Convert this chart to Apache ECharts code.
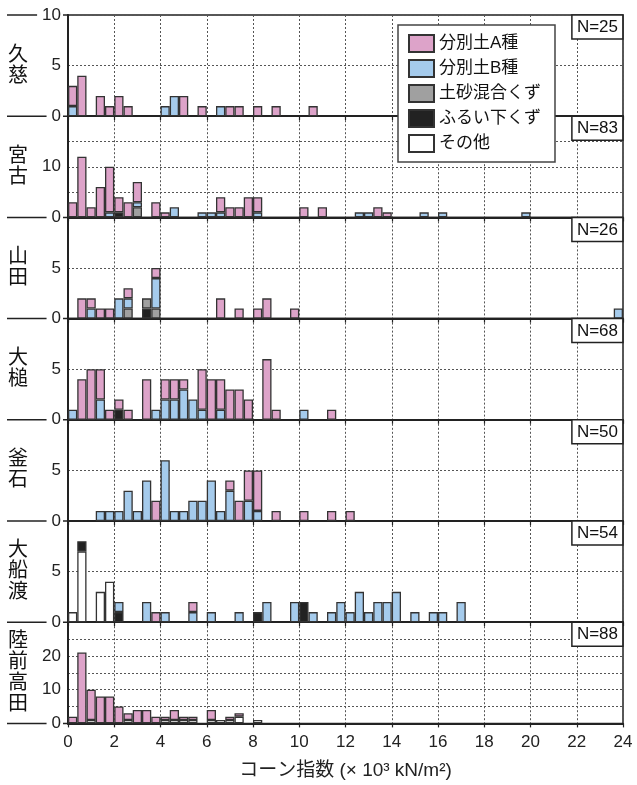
<!DOCTYPE html>
<html>
<head>
<meta charset="utf-8">
<script src="https://cdn.jsdelivr.net/npm/echarts@6/dist/echarts.min.js"></script>
<style>
  html, body { margin: 0; padding: 0; background: #fff; }
  #chart { width: 637px; height: 785px; }
</style>
</head>
<body>
<div id="chart"></div>
<script>
// Histogram bins: lower edge of each 0.4 (×10³ kN/m²) class
const binEdges = ['0.0','0.4','0.8','1.2','1.6','2.0','2.4','2.8','3.2','3.6',
  '4.0','4.4','4.8','5.2','5.6','6.0','6.4','6.8','7.2','7.6',
  '8.0','8.4','8.8','9.2','9.6','10.0','10.4','10.8','11.2','11.6',
  '12.0','12.4','12.8','13.2','13.6','14.0','14.4','14.8','15.2','15.6',
  '16.0','16.4','16.8','17.2','17.6','18.0','18.4','18.8','19.2','19.6',
  '20.0','20.4','20.8','21.2','21.6','22.0','22.4','22.8','23.2','23.6'];

const stations = ['久慈', '宮古', '山田', '大槌', '釜石', '大船渡', '陸前高田'];
const sampleCounts = [25, 83, 26, 68, 50, 54, 88];
const yMax = [10, 20, 10, 10, 10, 10, 30];
const yLabelValues = [[0, 5, 10], [0, 10], [0, 5], [0, 5], [0, 5], [0, 5], [0, 10, 20]];

const typeNames = ['分別土A種', '分別土B種', '土砂混合くず', 'ふるい下くず', 'その他'];

// Counts per class: [bin lower edge, count]
const kuji_A = [[0.0,2],[0.4,4],[1.2,2],[1.6,1],[2.0,2],[2.4,1],[4.8,2],[5.6,1],[6.8,1],[7.2,1],[8.0,1],[8.8,1],[10.4,1]];
const kuji_B = [[0.0,1],[4.0,1],[4.4,2],[6.4,1]];

const miyako_A = [[0.0,3],[0.4,12],[0.8,2],[1.2,6],[1.6,9],[2.0,3],[2.4,3],[2.8,4],[3.6,3],[4.0,1],[6.4,3],[6.8,2],[7.2,2],[7.6,4],[8.0,3],[10.0,2],[10.8,2],[13.2,2],[13.6,1]];
const miyako_B = [[1.6,1],[2.8,1],[4.4,2],[5.6,1],[6.0,1],[6.4,1],[8.0,1],[12.4,1],[12.8,1],[15.2,1],[16.0,1],[19.6,1]];
const miyako_mix = [[2.8,2]];
const miyako_sieve = [[2.0,1]];

const yamada_A = [[0.4,2],[0.8,1],[1.2,1],[1.6,1],[2.4,1],[3.6,1],[6.4,2],[7.2,1],[8.0,1],[8.4,2],[9.6,1]];
const yamada_B = [[0.8,1],[2.0,2],[2.4,1],[3.6,3],[23.6,1]];
const yamada_mix = [[2.4,1],[3.2,1],[3.6,1]];
const yamada_sieve = [[3.2,1]];

const otsuchi_A = [[0.4,4],[0.8,5],[1.2,3],[1.6,1],[2.0,1],[2.4,1],[3.2,4],[4.0,2],[4.4,2],[4.8,1],[5.6,4],[6.0,4],[6.4,3],[6.8,3],[7.2,3],[7.6,2],[8.4,6],[8.8,1],[11.2,1]];
const otsuchi_B = [[0.0,1],[1.2,2],[3.6,1],[4.0,2],[4.4,2],[4.8,3],[5.2,2],[5.6,1],[6.4,1],[10.0,1]];
const otsuchi_sieve = [[2.0,1]];

const kamaishi_A = [[3.6,2],[6.8,1],[7.2,2],[7.6,3],[8.0,4],[8.8,1],[10.0,1],[11.2,1],[12.0,1]];
const kamaishi_B = [[1.2,1],[1.6,1],[2.0,1],[2.4,3],[2.8,1],[3.2,4],[4.0,6],[4.4,1],[4.8,1],[5.2,2],[5.6,2],[6.0,4],[6.4,1],[6.8,3],[7.6,2],[8.0,1]];

const ofunato_A = [[3.6,1],[5.2,1]];
const ofunato_B = [[2.0,1],[3.2,2],[4.0,1],[5.2,1],[6.0,1],[7.2,1],[8.4,2],[9.6,2],[10.4,1],[11.2,1],[11.6,2],[12.0,1],[12.4,3],[12.8,1],[13.2,2],[13.6,2],[14.0,3],[14.8,1],[15.6,1],[16.0,1],[16.8,2]];
const ofunato_sieve = [[0.4,1],[2.0,1],[8.0,1],[10.0,2]];
const ofunato_other = [[0.0,1],[0.4,7],[1.2,3],[1.6,4]];

const rikuzentakata_A = [[0.0,2],[0.4,21],[0.8,9],[1.2,8],[1.6,8],[2.0,5],[2.4,2],[2.8,4],[3.2,4],[3.6,2],[4.0,1],[4.4,3],[4.8,1],[5.2,1],[6.0,3],[6.8,1],[7.2,1]];
const rikuzentakata_other = [[0.8,1],[2.4,1],[4.0,1],[4.4,1],[4.8,1],[5.2,1],[6.0,1],[6.4,1],[6.8,1],[7.2,2],[8.0,1]];

// Per-panel lookup of the arrays above, in type order A, B, mix, sieve, other
const panelSets = [
  [kuji_A, kuji_B, [], [], []],
  [miyako_A, miyako_B, miyako_mix, miyako_sieve, []],
  [yamada_A, yamada_B, yamada_mix, yamada_sieve, []],
  [otsuchi_A, otsuchi_B, [], otsuchi_sieve, []],
  [kamaishi_A, kamaishi_B, [], [], []],
  [ofunato_A, ofunato_B, [], ofunato_sieve, ofunato_other],
  [rikuzentakata_A, [], [], [], rikuzentakata_other]
];

// ---- styling ----
const FONT = "'Liberation Sans','Noto Sans CJK JP',sans-serif";
const INK = '#222';
const typeColors = ['#dda3c9', '#a5cbec', '#a0a0a0', '#222222', '#ffffff'];
const stackOrder = [4, 3, 2, 1, 0]; // bottom to top
const gridLeft = 68, gridRight = 14, firstTop = 15, panelH = 101.2;

function denseBins(pairs) {
  const out = binEdges.map(() => null);
  pairs.forEach(([edge, n]) => {
    const i = binEdges.indexOf(edge.toFixed(1));
    if (i >= 0) out[i] = n;
  });
  return out;
}

const grids = [], xAxes = [], yAxes = [], series = [], titles = [], graphics = [];
const dotted = { type: [2, 2], color: '#555', width: 1 };

// separator rule running out to the left edge
function leftRule(y) {
  return { type: 'line', z: 0, silent: true,
    shape: { x1: 7, y1: y, x2: gridLeft, y2: y },
    style: { stroke: INK, lineWidth: 1.5 } };
}
graphics.push(leftRule(firstTop));

stations.forEach((name, p) => {
  const top = firstTop + p * panelH;
  const last = p === stations.length - 1;
  grids.push({ left: gridLeft, right: gridRight, top: top, height: panelH,
    show: true, borderColor: INK, borderWidth: 1.5, backgroundColor: 'transparent' });

  // category axis that carries the bars
  xAxes.push({ type: 'category', gridIndex: p, data: binEdges, boundaryGap: true,
    position: 'bottom', show: false });
  // value axis for ticks, grid lines and labels
  xAxes.push({ type: 'value', gridIndex: p, min: 0, max: 24, interval: 2, position: 'bottom',
    axisLine: { show: true, lineStyle: { color: INK, width: 2 } },
    axisTick: { show: true, inside: false, length: 4, lineStyle: { color: INK, width: 1.2 } },
    splitLine: { show: true, lineStyle: dotted },
    axisLabel: { show: last, fontSize: 17, color: INK, fontFamily: FONT, margin: 10 },
    name: last ? 'コーン指数 (× 10³ kN/m²)' : '',
    nameLocation: 'middle', nameGap: 38,
    nameTextStyle: { fontSize: 19, color: INK, fontFamily: FONT },
    z: 1 });

  yAxes.push({ type: 'value', gridIndex: p, min: 0, max: yMax[p], interval: 5, position: 'left',
    axisLine: { show: true, lineStyle: { color: INK, width: 2 } },
    axisTick: { show: false },
    splitLine: { show: true, lineStyle: dotted },
    axisLabel: { customValues: yLabelValues[p], fontSize: 17, color: INK, fontFamily: FONT,
      margin: 5, backgroundColor: '#fff', padding: [0, 2, 0, 5] },
    z: 1 });

  stackOrder.forEach(t => {
    series.push({
      type: 'bar', name: typeNames[t], xAxisIndex: 2 * p, yAxisIndex: p,
      stack: 'panel' + p, barWidth: '100%',
      data: denseBins(panelSets[p][t]),
      itemStyle: { color: typeColors[t], borderColor: '#333', borderWidth: 1.3 },
      emphasis: { disabled: true }, animation: false
    });
  });

  titles.push({ text: 'N=' + sampleCounts[p], right: gridRight, top: top,
    padding: [4, 5, 3, 5], borderColor: INK, borderWidth: 1.5, backgroundColor: '#fff',
    textStyle: { fontSize: 17, fontWeight: 'normal', color: '#111', fontFamily: FONT } });

  graphics.push(leftRule(top + panelH));
  graphics.push({ type: 'text', x: 18, y: top + panelH / 2, z: 10,
    style: { text: name.split('').join('\n'), fontSize: 20, lineHeight: 21,
      fontFamily: FONT, fill: '#111', align: 'center', verticalAlign: 'middle' } });
});

const chart = echarts.init(document.getElementById('chart'), null, { renderer: 'canvas' });
chart.setOption({
  animation: false,
  backgroundColor: '#fff',
  title: titles,
  legend: {
    data: typeNames, orient: 'vertical', left: 398, top: 25,
    icon: 'rect', itemWidth: 25, itemHeight: 17, itemGap: 6,
    padding: [9, 14, 9, 10], backgroundColor: '#fff', borderColor: '#444', borderWidth: 1.5,
    textStyle: { fontSize: 17, color: '#111', fontFamily: FONT }, selectedMode: false, z: 8
  },
  grid: grids,
  xAxis: xAxes,
  yAxis: yAxes,
  series: series,
  graphic: graphics
});
</script>
</body>
</html>
